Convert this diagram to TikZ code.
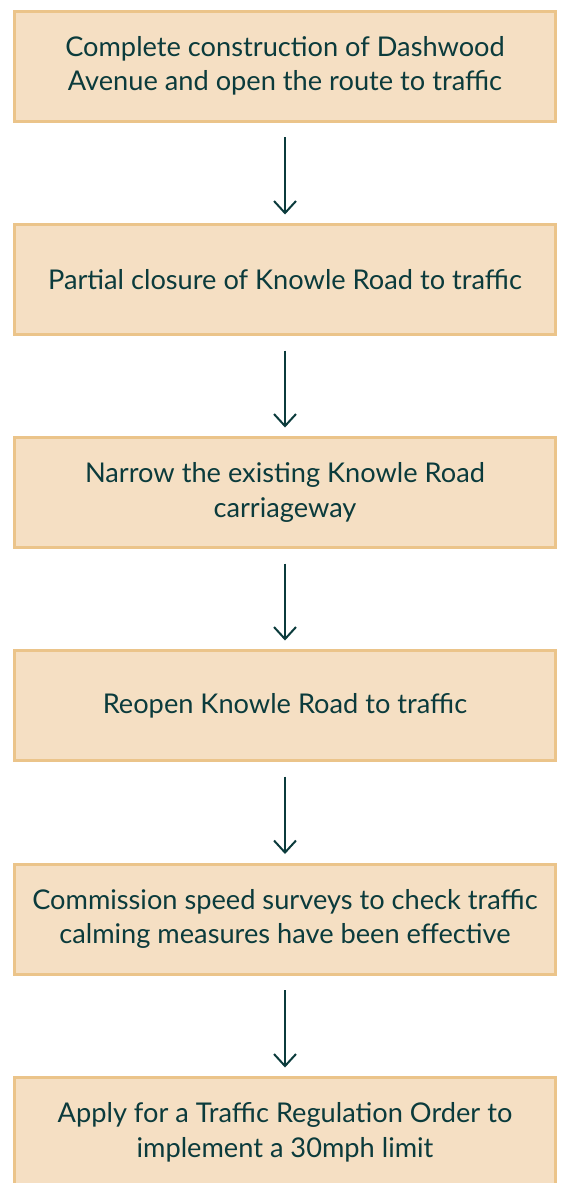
\documentclass[tikz,border=0pt]{standalone}
\usepackage{fontspec}
\setmainfont{Lato}
\usetikzlibrary{arrows.meta}
\definecolor{boxfill}{HTML}{F5DFC3}
\definecolor{boxline}{HTML}{EBC48A}
\definecolor{ink}{HTML}{0B3B3C}
\tikzset{
  stepbox/.style={draw=boxline, fill=boxfill, line width=3pt, minimum width=541pt, minimum height=110pt,
    inner sep=0pt, align=center, text=ink, font=\fontsize{27.2pt}{34.5pt}\selectfont},
  flowarrow/.style={draw=ink, line width=2pt, -{Straight Barb[length=12pt,width=22pt,line width=2pt]},
    shorten <=14.5pt, shorten >=8.5pt}
}
\begin{document}
\begin{tikzpicture}[x=1pt,y=-1pt]
\useasboundingbox (0,0) rectangle (560,1183);
\clip (0,0) rectangle (560,1183);
\node[stepbox] (b1) at (285,66) {Complete construction of Dashwood\\Avenue and open the route to traffic};
\node[stepbox] (b2) at (285,279.5) {Partial closure of Knowle Road to traffic};
\node[stepbox] (b3) at (285,492.5) {Narrow the existing Knowle Road\\carriageway};
\node[stepbox] (b4) at (285,705.5) {Reopen Knowle Road to traffic};
\node[stepbox] (b5) at (285,919) {Commission speed surveys to check traffic\\calming measures have been effective};
\node[stepbox] (b6) at (285,1132.5) {Apply for a Traffic Regulation Order to\\implement a 30mph limit};
\draw[flowarrow] (b1.south) -- (b2.north);
\draw[flowarrow] (b2.south) -- (b3.north);
\draw[flowarrow] (b3.south) -- (b4.north);
\draw[flowarrow] (b4.south) -- (b5.north);
\draw[flowarrow] (b5.south) -- (b6.north);
\end{tikzpicture}
\end{document}
